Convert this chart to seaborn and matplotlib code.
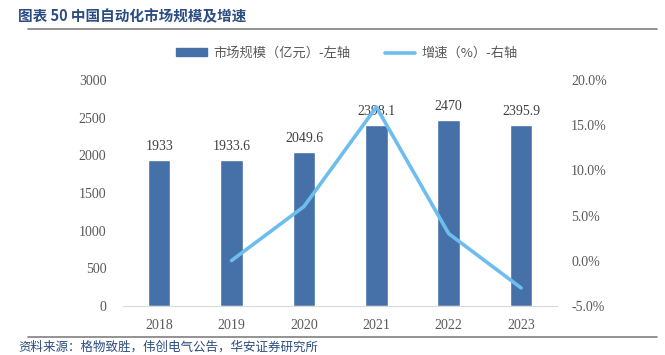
import numpy as np
import pandas as pd
import seaborn as sns
import matplotlib.pyplot as plt
from matplotlib.ticker import FuncFormatter
from matplotlib.patches import Patch
from matplotlib.lines import Line2D

# 数据
years = ['2018', '2019', '2020', '2021', '2022', '2023']
market_size = [1933, 1933.6, 2049.6, 2398.1, 2470, 2395.9]
growth_years = ['2019', '2020', '2021', '2022', '2023']
growth_pct = [0.03, 6.0, 17.0, 3.0, -3.0]

title_text = '图表 50 中国自动化市场规模及增速'
source_text = '资料来源：格物致胜，伟创电气公告，华安证券研究所'
legend_labels = ['市场规模（亿元）-左轴', '增速（%）-右轴']

bar_color = '#4571A8'
line_color = '#6DBEEE'
tick_color = '#595959'
cjk = ['Noto Sans CJK SC', 'DejaVu Sans']
num_font = 'Liberation Serif'

sns.set_style('white')
plt.rcParams['font.family'] = cjk

df_bar = pd.DataFrame({'year': years, 'size': market_size})
df_line = pd.DataFrame({'pos': [years.index(y) for y in growth_years], 'growth': growth_pct})

fig = plt.figure(figsize=(6.65, 3.55), dpi=100)
ax = fig.add_axes([0.185, 0.138, 0.653, 0.637])

sns.barplot(data=df_bar, x='year', y='size', color=bar_color, width=0.31,
            saturation=1, ax=ax)
ax.set_ylim(0, 3000)
ax.set_yticks(range(0, 3001, 500))
ax.set_xlim(-0.5, 5.5)
ax.set_xlabel('')
ax.set_ylabel('')

## 柱子上方的数值
labels = ['%g' % v for v in market_size]
ax.bar_label(ax.containers[0], labels=labels, padding=5, fontsize=10,
             color='#404040', family=num_font)

ax2 = ax.twinx()
sns.lineplot(data=df_line, x='pos', y='growth', color=line_color, linewidth=2.6, ax=ax2)
ax2.set_ylim(-5, 20)
ax2.set_yticks(range(-5, 21, 5))
ax2.yaxis.set_major_formatter(FuncFormatter(lambda v, p: '%.1f%%' % v))
ax2.set_ylabel('')
ax2.set_xlim(-0.5, 5.5)

for a in (ax, ax2):
    for s in a.spines.values():
        s.set_visible(False)
    a.tick_params(length=0, labelsize=10, colors=tick_color)
    for t in a.get_yticklabels() + a.get_xticklabels():
        t.set_family(num_font)
ax.spines['bottom'].set_visible(True)
ax.spines['bottom'].set_color('#D9D9D9')
ax.tick_params(axis='x', pad=9)
ax.tick_params(axis='y', pad=12)
ax2.tick_params(axis='y', pad=10)

## 图例
handles = [Patch(color=bar_color), Line2D([0], [0], color=line_color, linewidth=2.6)]
fig.legend(handles, legend_labels, loc='center', bbox_to_anchor=(0.522, 0.85), ncol=2,
           frameon=False, fontsize=9.5, labelcolor=tick_color, handlelength=2.3,
           handleheight=0.5, columnspacing=2.6, handletextpad=0.5)

## 标题和来源
fig.text(0.027, 0.955, title_text, fontsize=10.5, fontweight='bold', color='#2B4C80',
         va='center')
fig.add_artist(Line2D([0.042, 0.988], [0.918, 0.918], color='#808080', linewidth=1.2))
fig.add_artist(Line2D([0.042, 0.988], [0.05, 0.05], color='#808080', linewidth=1.2))
fig.text(0.027, 0.004, source_text, fontsize=9, color='#2B4C80', va='bottom')

fig.savefig('out.png', dpi=100)
